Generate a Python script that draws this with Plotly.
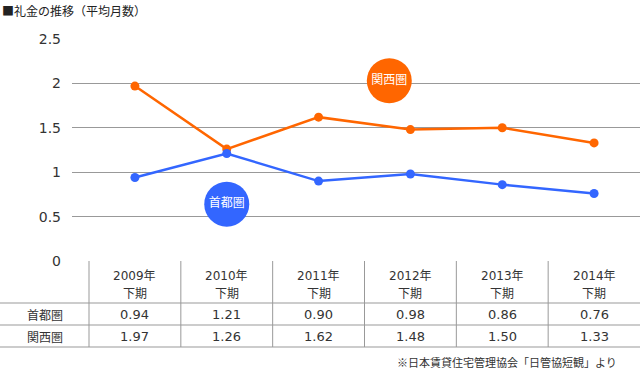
import plotly.graph_objects as go

# ---- data ----
years = ["2009年", "2010年", "2011年", "2012年", "2013年", "2014年"]
halves = ["下期", "下期", "下期", "下期", "下期", "下期"]
series_names = ["首都圏", "関西圏"]
shuto = [0.94, 1.21, 0.90, 0.98, 0.86, 0.76]
kansai = [1.97, 1.26, 1.62, 1.48, 1.50, 1.33]
y_ticks = [0, 0.5, 1, 1.5, 2, 2.5]
y_tick_labels = ["0", "0.5", "1", "1.5", "2", "2.5"]
title_text = "■礼金の推移（平均月数）"
source_text = "※日本賃貸住宅管理協会「日管協短観」より"

ORANGE = "#FF6600"
BLUE = "#3366FF"
GRID = "#999999"
TXT = "#333333"
FONT = "DejaVu Sans, Noto Sans CJK JP"
JFONT = "Noto Sans CJK JP"

W, H = 640, 370
ML, MR, MT, MB = 72, 0, 39, 109
PW, PH = W - ML - MR, H - MT - MB

def px(xp):
    return (xp - ML) / PW

def py(yp):
    return (H - MB - yp) / PH

col_w = (W - 89) / 6.0
x_idx = list(range(len(years)))
x_range = [-0.5 - (89 - ML) / col_w, len(years) - 0.5 + (W - (89 + 6 * col_w)) / col_w]

fig = go.Figure()

fig.add_trace(go.Scatter(x=x_idx, y=kansai, mode="lines+markers", name=series_names[1],
                         line=dict(color=ORANGE, width=2.5), marker=dict(size=9, color=ORANGE),
                         hoverinfo="skip"))
fig.add_trace(go.Scatter(x=x_idx, y=shuto, mode="lines+markers", name=series_names[0],
                         line=dict(color=BLUE, width=2.5), marker=dict(size=9, color=BLUE),
                         hoverinfo="skip"))

# circle labels
fig.add_trace(go.Scatter(x=[2.77], y=[2.03], mode="markers+text", text=[series_names[1]],
                         textposition="middle center",
                         textfont=dict(color="white", size=12, family=JFONT),
                         marker=dict(size=45, color=ORANGE), hoverinfo="skip"))
fig.add_trace(go.Scatter(x=[1.0], y=[0.64], mode="markers+text", text=[series_names[0]],
                         textposition="middle center",
                         textfont=dict(color="white", size=12, family=JFONT),
                         marker=dict(size=45, color=BLUE), hoverinfo="skip"))

shapes = []
for yp in [303, 325, 347]:
    shapes.append(dict(type="line", xref="paper", yref="paper", x0=px(0), x1=1,
                       y0=py(yp), y1=py(yp), line=dict(color=GRID, width=1)))
for k in range(6):
    xp = 89 + k * col_w
    shapes.append(dict(type="line", xref="paper", yref="paper", x0=px(xp), x1=px(xp),
                       y0=py(261), y1=py(347), line=dict(color=GRID, width=1)))

ann = []
ann.append(dict(text=title_text, xref="paper", yref="paper", x=px(0), y=py(11),
                xanchor="left", yanchor="middle", showarrow=False,
                font=dict(size=12, color="#222222", family=JFONT)))
for i in x_idx:
    ann.append(dict(text=years[i], xref="x", yref="paper", x=i, y=py(276),
                    xanchor="center", yanchor="middle", showarrow=False,
                    font=dict(size=12, color=TXT, family=FONT)))
    ann.append(dict(text=halves[i], xref="x", yref="paper", x=i, y=py(292),
                    xanchor="center", yanchor="middle", showarrow=False,
                    font=dict(size=12, color=TXT, family=JFONT)))
    ann.append(dict(text=f"{shuto[i]:.2f}", xref="x", yref="paper", x=i, y=py(314.5),
                    xanchor="center", yanchor="middle", showarrow=False,
                    font=dict(size=13, color=TXT, family=FONT)))
    ann.append(dict(text=f"{kansai[i]:.2f}", xref="x", yref="paper", x=i, y=py(336.5),
                    xanchor="center", yanchor="middle", showarrow=False,
                    font=dict(size=13, color=TXT, family=FONT)))
for name, yp in [(series_names[0], 314.5), (series_names[1], 336.5)]:
    ann.append(dict(text=name, xref="paper", yref="paper", x=px(45), y=py(yp),
                    xanchor="center", yanchor="middle", showarrow=False,
                    font=dict(size=12, color=TXT, family=JFONT)))
ann.append(dict(text=source_text, xref="paper", yref="paper", x=px(619), y=py(361.5),
                xanchor="right", yanchor="middle", showarrow=False,
                font=dict(size=11, color=TXT, family=JFONT)))

fig.update_layout(
    width=W, height=H,
    margin=dict(l=ML, r=MR, t=MT, b=MB, pad=0),
    paper_bgcolor="white", plot_bgcolor="white",
    showlegend=False,
    font=dict(family=FONT, color=TXT),
    xaxis=dict(range=x_range, showgrid=False, zeroline=False, showticklabels=False,
               showline=False, fixedrange=True),
    yaxis=dict(range=[0, 2.5], tickvals=y_ticks, ticktext=y_tick_labels,
               showgrid=True, gridcolor=GRID, gridwidth=1, zeroline=False,
               showline=False, ticks="", ticklabelstandoff=10,
               tickfont=dict(size=14, color=TXT, family=FONT), fixedrange=True),
    shapes=shapes, annotations=ann,
)

fig.write_html("out.html", config={"displayModeBar": False},
               post_script="document.body.style.margin='0';document.body.style.overflow='hidden';")
